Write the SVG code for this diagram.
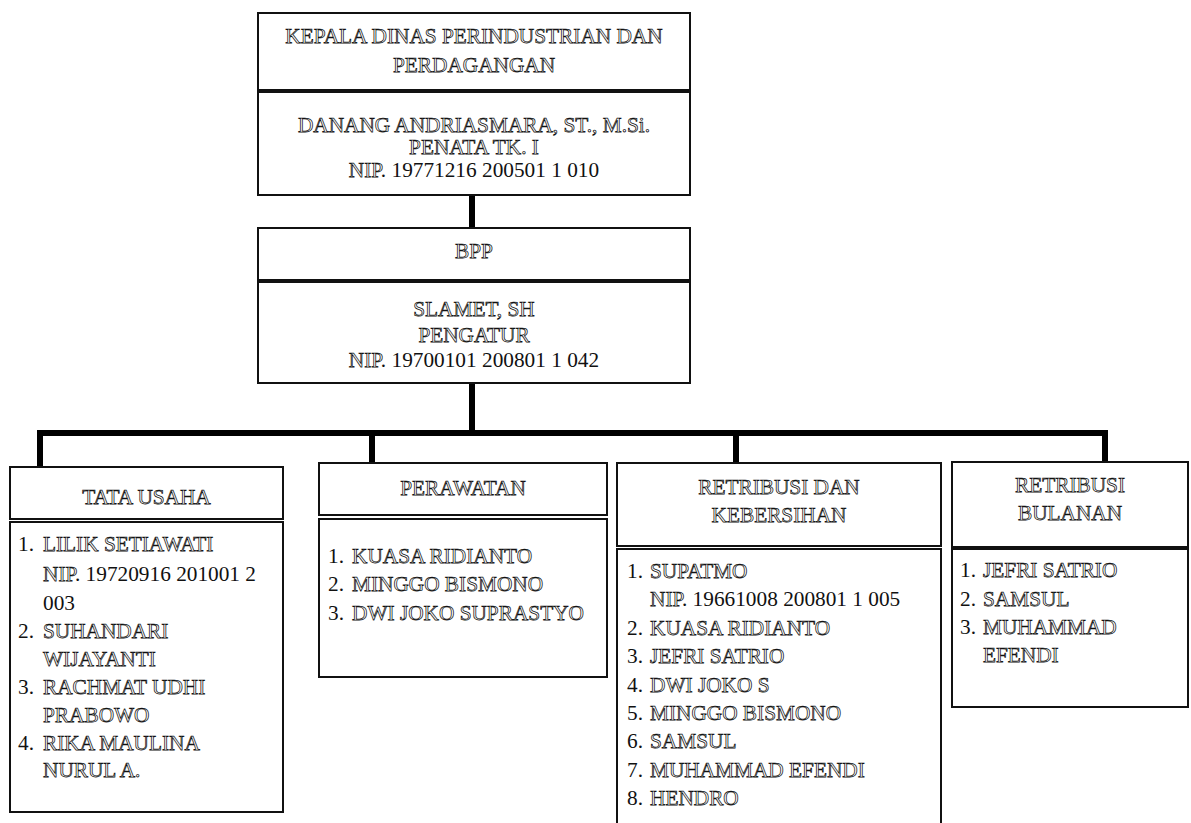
<svg xmlns="http://www.w3.org/2000/svg" width="1191" height="823" viewBox="0 0 1191 823">
<style>
.b{fill:#fff;stroke:#111;stroke-width:2}
.t{font-family:"Liberation Serif","Times New Roman",serif;font-size:21.3px;fill:#fff;stroke:#111;stroke-width:0.75px}
.m{text-anchor:middle}
.d{fill:#111;stroke:none}
.c{fill:none;stroke:#000;stroke-width:6}
</style>
<rect width="1191" height="823" fill="#fff"/>
<g id="connectors">
<line class="c" x1="472" y1="195" x2="472" y2="229"/>
<line class="c" x1="472" y1="383" x2="472" y2="433"/>
<path class="c" d="M40,468 V433 H1105 V463"/>
<line class="c" x1="372" y1="433" x2="372" y2="464"/>
<line class="c" x1="736" y1="433" x2="736" y2="464"/>
</g>
<g id="kepala">
<rect class="b" x="258" y="13" width="432" height="77"/>
<rect class="b" x="258" y="92" width="432" height="103"/>
<text class="t m" x="474" y="43">KEPALA DINAS PERINDUSTRIAN DAN</text>
<text class="t m" x="474" y="72">PERDAGANGAN</text>
<text class="t m" x="474" y="132">DANANG ANDRIASMARA, ST., M.Si.</text>
<text class="t m" x="474" y="154">PENATA TK. I</text>
<text class="t m" x="474" y="177">NIP<tspan class="d">. 19771216 200501 1 010</tspan></text>
</g>
<g id="bpp">
<rect class="b" x="258" y="228" width="432" height="52"/>
<rect class="b" x="258" y="282" width="432" height="101"/>
<text class="t m" x="474" y="258">BPP</text>
<text class="t m" x="474" y="316">SLAMET, SH</text>
<text class="t m" x="474" y="342">PENGATUR</text>
<text class="t m" x="474" y="367">NIP<tspan class="d">. 19700101 200801 1 042</tspan></text>
</g>
<g id="tata-usaha">
<rect class="b" x="10" y="467" width="273" height="52"/>
<rect class="b" x="10" y="522" width="273" height="290"/>
<text class="t m" x="146.5" y="504">TATA USAHA</text>
<text class="t" x="18" y="551"><tspan class="d">1.</tspan><tspan x="43">LILIK SETIAWATI</tspan></text>
<text class="t" x="43" y="581">NIP<tspan class="d">. 19720916 201001 2</tspan></text>
<text class="t" x="43" y="610"><tspan class="d">003</tspan></text>
<text class="t" x="18" y="638"><tspan class="d">2.</tspan><tspan x="43">SUHANDARI</tspan></text>
<text class="t" x="43" y="666">WIJAYANTI</text>
<text class="t" x="18" y="694"><tspan class="d">3.</tspan><tspan x="43">RACHMAT UDHI</tspan></text>
<text class="t" x="43" y="722">PRABOWO</text>
<text class="t" x="18" y="750"><tspan class="d">4.</tspan><tspan x="43">RIKA MAULINA</tspan></text>
<text class="t" x="43" y="777">NURUL A.</text>
</g>
<g id="perawatan">
<rect class="b" x="319" y="463" width="288" height="52"/>
<rect class="b" x="319" y="519" width="288" height="158"/>
<text class="t m" x="463" y="495">PERAWATAN</text>
<text class="t" x="328" y="563"><tspan class="d">1.</tspan><tspan x="352">KUASA RIDIANTO</tspan></text>
<text class="t" x="328" y="591"><tspan class="d">2.</tspan><tspan x="352">MINGGO BISMONO</tspan></text>
<text class="t" x="328" y="620"><tspan class="d">3.</tspan><tspan x="352">DWI JOKO SUPRASTYO</tspan></text>
</g>
<g id="retribusi-kebersihan">
<rect class="b" x="617" y="463" width="324" height="83"/>
<rect class="b" x="617" y="549" width="324" height="300"/>
<text class="t m" x="779" y="494">RETRIBUSI DAN</text>
<text class="t m" x="779" y="522">KEBERSIHAN</text>
<text class="t" x="627" y="578"><tspan class="d">1.</tspan><tspan x="650">SUPATMO</tspan></text>
<text class="t" x="650" y="606">NIP<tspan class="d">. 19661008 200801 1 005</tspan></text>
<text class="t" x="627" y="635"><tspan class="d">2.</tspan><tspan x="650">KUASA RIDIANTO</tspan></text>
<text class="t" x="627" y="663"><tspan class="d">3.</tspan><tspan x="650">JEFRI SATRIO</tspan></text>
<text class="t" x="627" y="692"><tspan class="d">4.</tspan><tspan x="650">DWI JOKO S</tspan></text>
<text class="t" x="627" y="720"><tspan class="d">5.</tspan><tspan x="650">MINGGO BISMONO</tspan></text>
<text class="t" x="627" y="748"><tspan class="d">6.</tspan><tspan x="650">SAMSUL</tspan></text>
<text class="t" x="627" y="777"><tspan class="d">7.</tspan><tspan x="650">MUHAMMAD EFENDI</tspan></text>
<text class="t" x="627" y="805"><tspan class="d">8.</tspan><tspan x="650">HENDRO</tspan></text>
</g>
<g id="retribusi-bulanan">
<rect class="b" x="952" y="462" width="236" height="85"/>
<rect class="b" x="952" y="549" width="236" height="158"/>
<text class="t m" x="1070" y="492">RETRIBUSI</text>
<text class="t m" x="1070" y="520">BULANAN</text>
<text class="t" x="960" y="577"><tspan class="d">1.</tspan><tspan x="983">JEFRI SATRIO</tspan></text>
<text class="t" x="960" y="606"><tspan class="d">2.</tspan><tspan x="983">SAMSUL</tspan></text>
<text class="t" x="960" y="634"><tspan class="d">3.</tspan><tspan x="983">MUHAMMAD</tspan></text>
<text class="t" x="983" y="662">EFENDI</text>
</g>
</svg>
